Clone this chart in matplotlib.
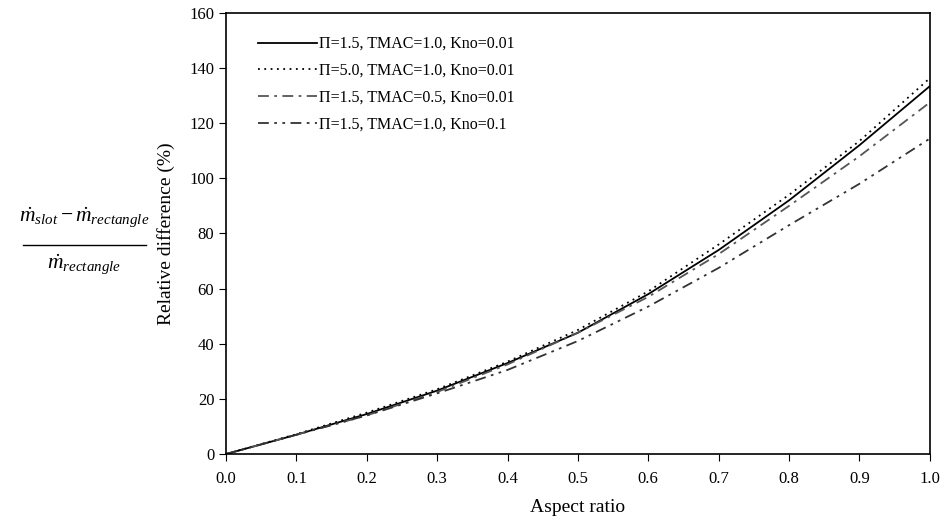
import numpy as np
import matplotlib
matplotlib.use('Agg')
import matplotlib.pyplot as plt
from matplotlib.lines import Line2D

plt.rcParams['font.family'] = ['Liberation Serif', 'DejaVu Serif']
plt.rcParams['mathtext.fontset'] = 'custom'
plt.rcParams['mathtext.it'] = 'Liberation Serif:italic'
plt.rcParams['mathtext.rm'] = 'Liberation Serif'

# 数据
aspect = [0.0, 0.1, 0.2, 0.3, 0.4, 0.5, 0.6, 0.7, 0.8, 0.9, 1.0]
pi15_tmac10_kno001 = [0, 7.0, 14.5, 23.0, 33.0, 44.0, 58.0, 74.0, 92.0, 112.0, 133.4]
pi50_tmac10_kno001 = [0, 7.2, 15.0, 23.5, 33.5, 45.0, 59.0, 76.0, 94.0, 113.5, 136.3]
pi15_tmac05_kno001 = [0, 7.0, 14.0, 22.5, 32.5, 44.0, 57.0, 72.5, 90.0, 108.0, 127.5]
pi15_tmac10_kno01 = [0, 7.0, 14.0, 22.0, 30.5, 41.0, 53.5, 67.5, 83.0, 98.0, 114.4]
labels = ['\u03a0=1.5, TMAC=1.0, Kno=0.01',
          '\u03a0=5.0, TMAC=1.0, Kno=0.01',
          '\u03a0=1.5, TMAC=0.5, Kno=0.01',
          '\u03a0=1.5, TMAC=1.0, Kno=0.1']

fig = plt.figure(figsize=(9.42, 5.27), dpi=100)
ax = fig.add_axes([0.24, 0.1385, 0.747, 0.837])

ax.plot(aspect, pi15_tmac10_kno001, color='black', lw=1.3, ls='-', label=labels[0])
ax.plot(aspect, pi50_tmac10_kno001, color='black', lw=1.3, ls=(0, (1, 2.5)), label=labels[1])
ax.plot(aspect, pi15_tmac05_kno001, color='#555555', lw=1.3, ls=(0, (6, 3, 1.5, 3)), label=labels[2])
ax.plot(aspect, pi15_tmac10_kno01, color='#333333', lw=1.3, ls=(0, (6, 3, 1.5, 3, 1.5, 3)), label=labels[3])

ax.set_xlim(0, 1)
ax.set_ylim(0, 160)
ax.set_xticks(np.arange(0, 1.01, 0.1))
ax.set_xticklabels(['%.1f' % v for v in np.arange(0, 1.01, 0.1)])
ax.set_yticks(range(0, 161, 20))
ax.tick_params(direction='out', length=5, labelsize=12, top=False, right=False)
ax.tick_params(axis='x', pad=7)
for s in ax.spines.values():
    s.set_linewidth(1.2)

ax.set_xlabel('Aspect ratio', fontsize=14, labelpad=9)
ax.set_ylabel('Relative difference (%)', fontsize=14, labelpad=10)

ax.legend(loc='upper left', frameon=False, fontsize=11.5, handlelength=3.7,
          handletextpad=0.1, labelspacing=0.68, bbox_to_anchor=(0.025, 0.98))

# 左侧分式
fig.text(0.0897, 0.579, r'$\dot{m}_{slot}-\dot{m}_{rectangle}$',
         fontsize=15.5, ha='center', va='baseline')
fig.add_artist(Line2D([23 / 942, 146 / 942], [0.535, 0.535],
                      transform=fig.transFigure, color='black', lw=1.0))
fig.text(0.0897, 0.49, r'$\dot{m}_{rectangle}$',
         fontsize=15.5, ha='center', va='baseline')

plt.savefig('out.png', dpi=100)
